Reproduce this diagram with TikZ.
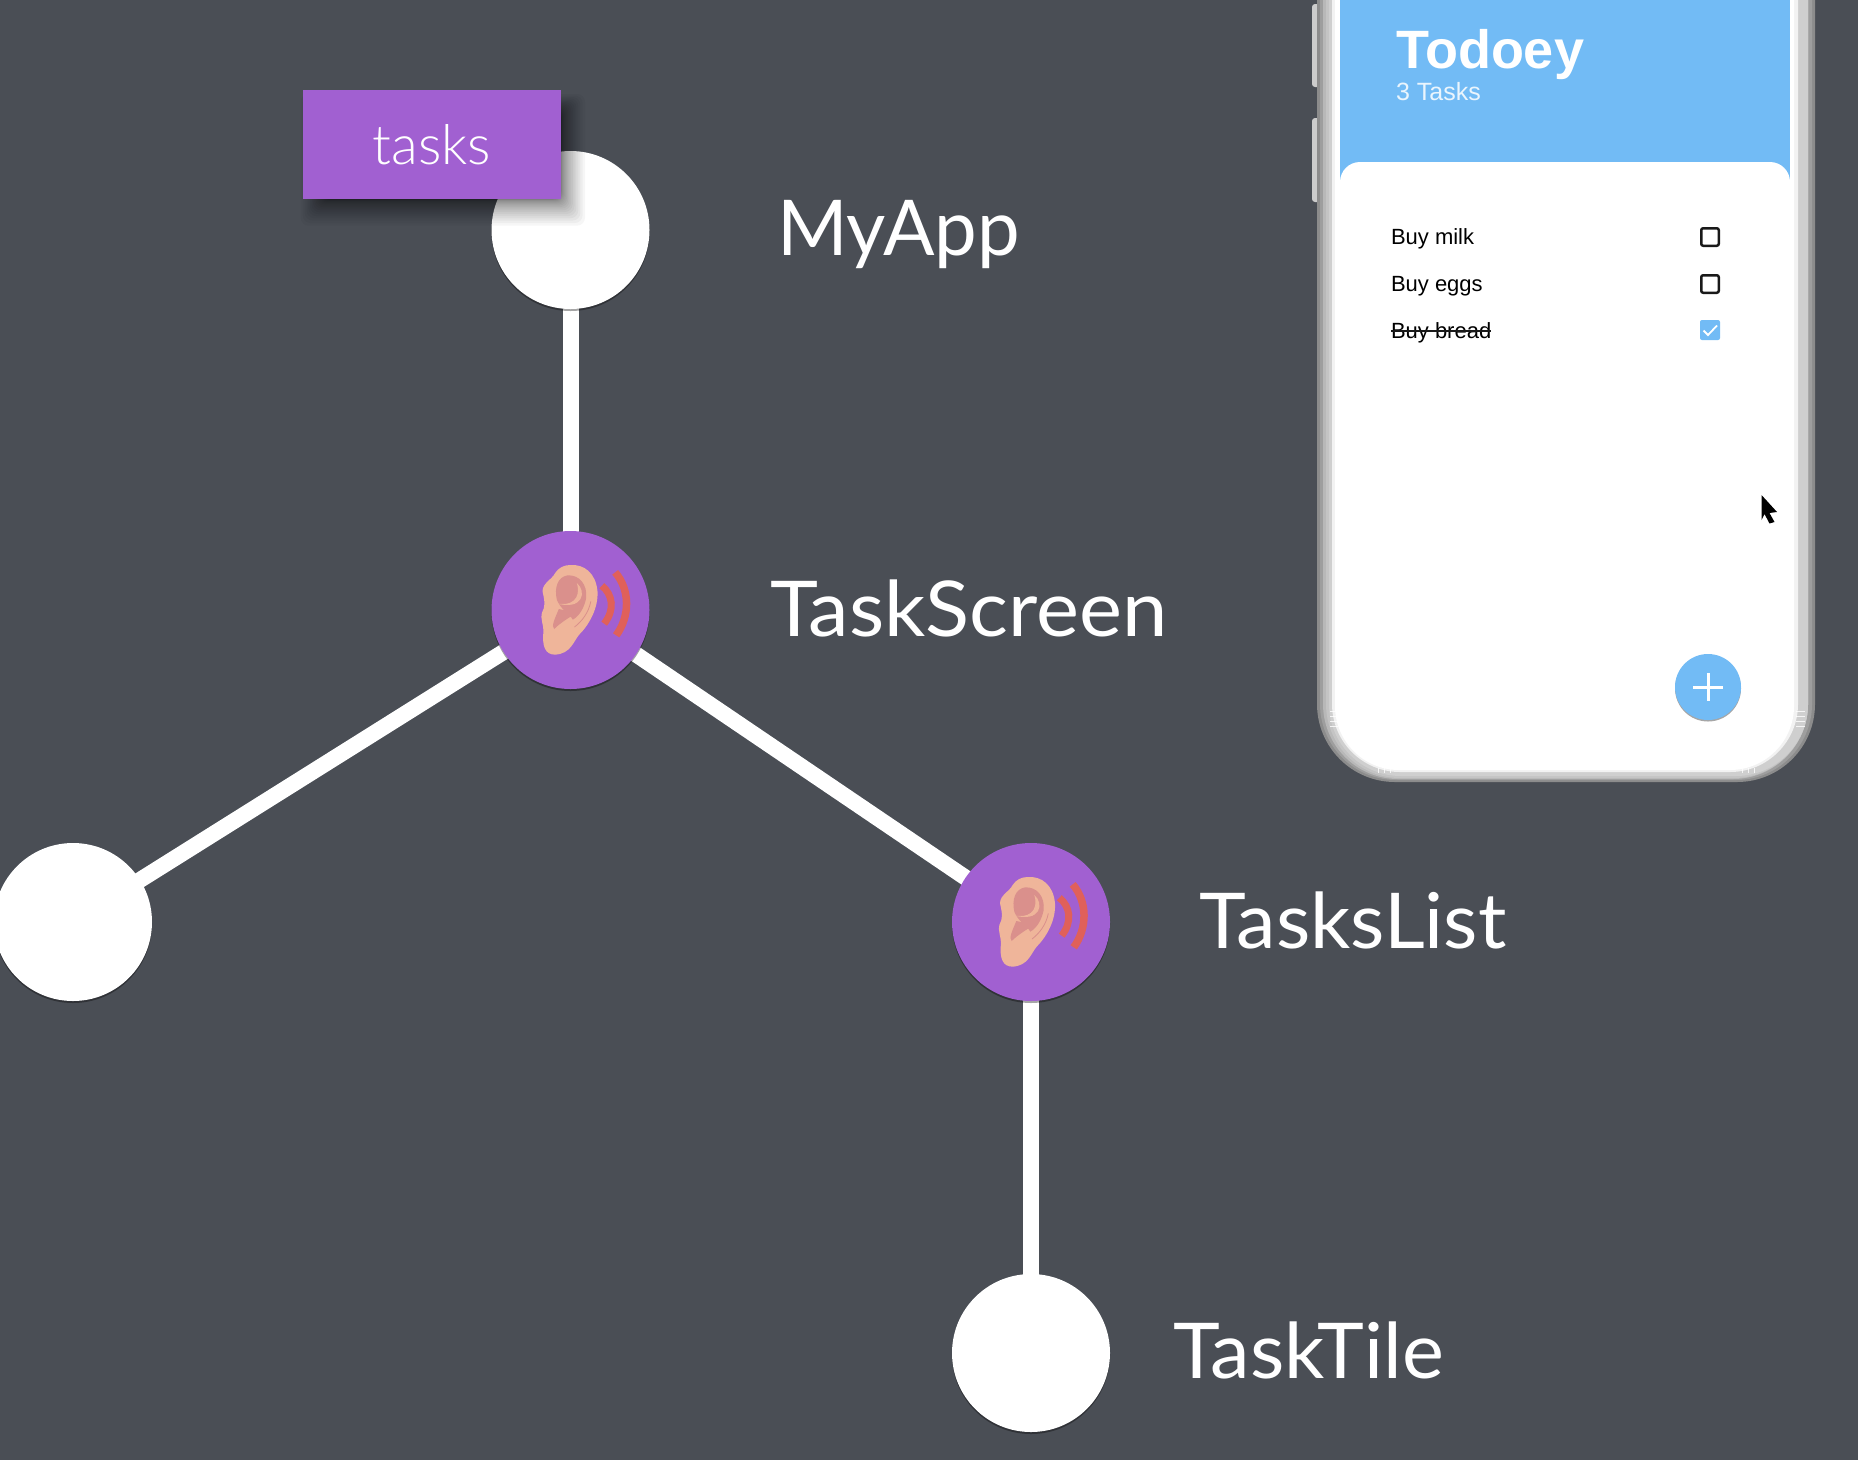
\documentclass[tikz,border=0pt]{standalone}
\usepackage{fontspec}
\usepackage{graphicx}
\setmainfont{Liberation Sans}
\newfontfamily\labelf[FakeStretch=1.03]{Lato}
\newfontfamily\lightf{Lato Light}
\usetikzlibrary{shadows}
\definecolor{bgc}{HTML}{4A4E55}
\definecolor{purp}{HTML}{A160D1}
\definecolor{skyb}{HTML}{72BBF5}
\definecolor{peach}{HTML}{EFB59A}
\definecolor{pinkin}{HTML}{DA908C}
\definecolor{wavec}{HTML}{E0605A}
\pgfdeclarelayer{edgelayer}
\pgfsetlayers{edgelayer,main}
\tikzset{
  every node/.style={inner sep=0pt,outer sep=0pt},
  treenode/.style={circle,minimum size=158pt,drop shadow={shadow xshift=0pt,shadow yshift=-2pt,opacity=.35,fill=black}},
  plain/.style={treenode,fill=white},
  listen/.style={treenode,fill=purp},
  edge/.style={white,line width=16pt},
  lbl/.style={anchor=base west,text=white,font=\labelf\fontsize{77}{80}\selectfont},
  itemtxt/.style={anchor=base west,text=black,font=\fontsize{22}{26}\selectfont},
  chk/.style={rectangle,draw=black!90,line width=2.5pt,rounded corners=2pt,minimum size=17.5pt},
  tick/.style={white,opacity=.8,line width=1pt},
}
\newcommand{\earicon}[1]{%
  \begin{scope}[shift={(#1)},x=.3333pt,y=-.3333pt,shift={(-271,-271)}]
    \fill[peach] (270,136) .. controls (312,133) and (347,160) .. (352,215)
      .. controls (355,265) and (327,315) .. (297,345)
      .. controls (280,365) and (272,402) .. (225,405)
      .. controls (195,405) and (185,380) .. (190,335)
      .. controls (190,315) and (180,295) .. (185,280)
      .. controls (195,260) and (195,250) .. (187,215)
      .. controls (187,190) and (215,180) .. (225,160)
      .. controls (235,145) and (250,136) .. (270,136) -- cycle;
    \fill[pinkin] (262,167) .. controls (298,165) and (322,195) .. (318,235)
      .. controls (312,265) and (298,288) .. (278,300)
      .. controls (270,285) and (240,268) .. (230,240)
      .. controls (222,205) and (232,172) .. (262,167) -- cycle;
    \fill[peach] (290,190) .. controls (320,215) and (310,275) .. (225,250)
      .. controls (270,262) and (305,240) .. (290,190) -- cycle;
    \fill[pinkin] (236,268) .. controls (255,272) and (275,275) .. (282,284)
      .. controls (265,295) and (240,310) .. (222,328)
      .. controls (212,320) and (225,295) .. (236,268) -- cycle;
    \draw[pinkin,line width=.8pt] (332,245) .. controls (325,280) and (305,305) .. (283,322);
    \draw[wavec,line width=7pt] (365,198) .. controls (398,225) and (405,270) .. (372,312);
    \draw[wavec,line width=7.5pt] (405,158) .. controls (450,210) and (450,290) .. (408,347);
  \end{scope}}
\begin{document}
\begin{tikzpicture}[x=1pt,y=-1pt]
\useasboundingbox (0,0) rectangle (1858,1460);
\begin{pgfonlayer}{edgelayer}
  \fill[bgc] (0,0) rectangle (1858,1460);
\end{pgfonlayer}
% tree nodes
\node[plain]  (myapp) at (570.5,230) {};
\node[listen] (tscreen) at (570.5,610) {};
\node[plain]  (left) at (73,922) {};
\node[listen] (tlist) at (1031,922) {};
\node[plain]  (ttile) at (1031,1353) {};
\coordinate (tlistear) at (1028,922);
\begin{pgfonlayer}{edgelayer}
  \draw[edge] (myapp.center) -- (tscreen.center);
  \draw[edge] (tscreen.center) -- (left.center);
  \draw[edge] (tscreen.center) -- (tlist.center);
  \draw[edge] (tlist.center) -- (ttile.center);
\end{pgfonlayer}
\earicon{tscreen.center}
\earicon{tlistear}
% labels
\node[lbl] (l1) at (777,255) {\scalebox{.96}[1]{MyApp}};
\node[lbl] (l2) at (770,636) {\scalebox{1.025}[1]{TaskScreen}};
\node[lbl] (l3) at (1199,948) {TasksList};
\node[lbl] (l4) at (1173,1378) {TaskTile};
% tasks box
\foreach \i in {1,...,20} {
  \pgfmathsetmacro{\off}{\i*\i/15}
  \fill[black,opacity=.035,rounded corners=8pt] ({322-.8*\off},{110-.6*\off}) rectangle ({561+.9*\off},{199+\off});
}
\node[rectangle,fill=purp,minimum width=258pt,minimum height=109pt,text=white,font=\lightf\fontsize{55}{58}\selectfont] (tasks) at (432,144.5) {tasks};
% phone
\fill[white!80!black,rounded corners=3pt] (1312,4) rectangle (1322,87);
\fill[white!80!black,rounded corners=3pt] (1312,118) rectangle (1322,202);
\fill[black!45,rounded corners=78pt] (1317,-100) rectangle (1815,782);
\fill[white!62!black,rounded corners=76pt] (1320,-100) rectangle (1812,780);
\fill[white!72!black,rounded corners=75pt] (1323,-100) rectangle (1808,779);
\fill[white!77!black,rounded corners=74pt] (1326,-100) rectangle (1808,778);
\fill[white!81!black,rounded corners=72pt] (1329,-100) rectangle (1808,776);
\fill[white!95!black,rounded corners=68pt] (1332,-100) rectangle (1798,772);
\fill[white,rounded corners=64pt] (1335,-100) rectangle (1794,770);
\begin{scope}
  \clip[rounded corners=60pt] (1340,-100) rectangle (1790,768);
  \fill[white] (1340,-100) rectangle (1790,768);
  \fill[skyb] (1340,-100) rectangle (1790,185);
  \fill[white,rounded corners=20pt] (1340,162) rectangle (1790,300);
\end{scope}
% antenna bands
\foreach \yy in {711,716,721,726} {
  \draw[tick] (1330,\yy) -- (1338,\yy);
  \draw[tick] (1796,\yy) -- (1805,\yy);
}
\foreach \xx in {1378,1384,1390,1742,1748,1754} {
  \draw[tick] (\xx,768) -- (\xx,773);
}
\node[anchor=base west,text=white,font=\bfseries\fontsize{54}{58}\selectfont] (title) at (1396,68) {Todoey};
\node[anchor=base west,text=white!85!skyb,font=\fontsize{25}{28}\selectfont] (sub) at (1396,100) {3 Tasks};
\node[itemtxt] (i1) at (1391,244) {Buy milk};
\node[itemtxt] (i2) at (1391,291) {Buy eggs};
\node[itemtxt] (i3) at (1391,338) {Buy bread};
\draw[black!90,line width=2pt] (i3.west|-0,331) -- (i3.east|-0,331);
\node[chk] (c1) at (1710,237) {};
\node[chk] (c2) at (1710,284) {};
\node[rectangle,fill=skyb,rounded corners=2pt,minimum size=20pt] (c3) at (1710,330) {};
\draw[white,line width=1.8pt] (1703.5,330.5) -- (1708,335) -- (1717,325.5);
% fab
\node[circle,fill=skyb,minimum size=66pt,drop shadow={shadow xshift=0pt,shadow yshift=-1.5pt,opacity=.35,fill=black}] (fab) at (1708,687) {};
\draw[white,line width=3pt] (1693,687) -- (1723,687) (1708,673) -- (1708,701);
% cursor
\fill[black] (1761.5,495) -- (1777,512) -- (1769.5,513) -- (1774.5,522) -- (1769.5,523.5) -- (1764.5,514) -- (1761.5,520) -- cycle;
\end{tikzpicture}
\end{document}
